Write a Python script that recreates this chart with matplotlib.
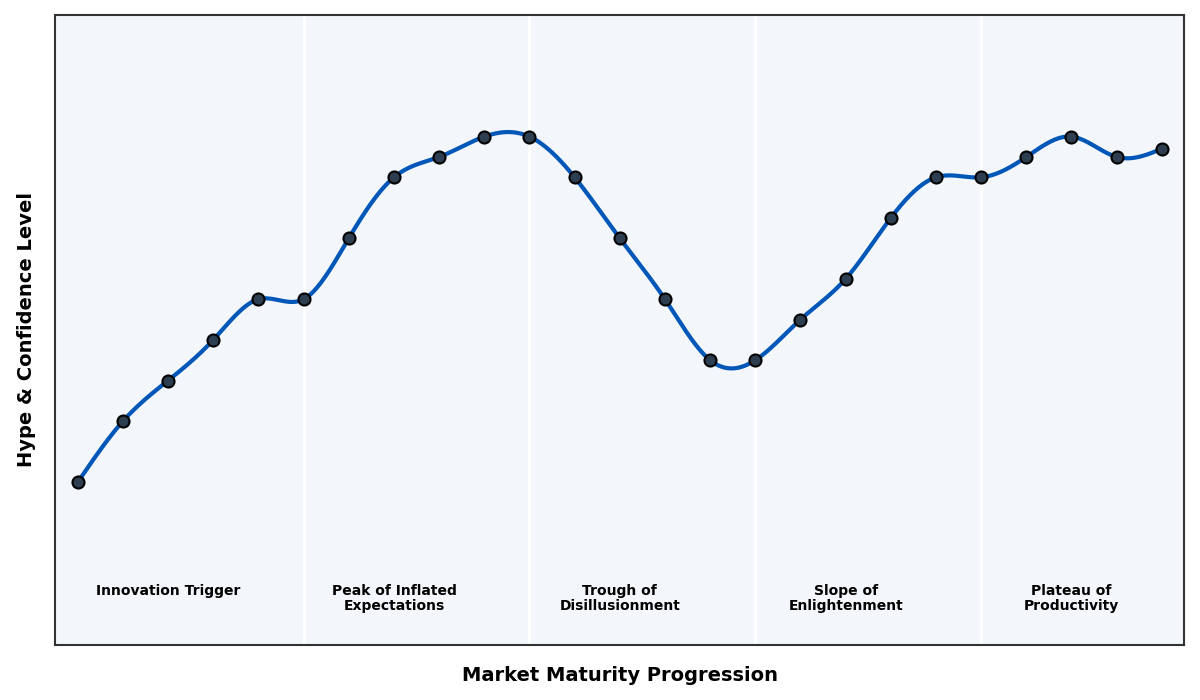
import numpy as np
import matplotlib.pyplot as plt

# hype curve values, one per step
steps = list(range(25))
hype = [10, 25, 35, 45, 55, 55, 70, 85, 90, 95, 95, 85, 70, 55, 40,
        40, 50, 60, 75, 85, 85, 90, 95, 90, 92]
phase_names = ['Innovation Trigger', 'Peak of Inflated\nExpectations',
               'Trough of\nDisillusionment', 'Slope of\nEnlightenment',
               'Plateau of\nProductivity']
phase_bounds = [5, 10, 15, 20]
phase_centers = [2, 7, 12, 17, 22]


def spline(x, y, xs):
    # natural cubic spline, numpy only
    x = np.asarray(x, float)
    y = np.asarray(y, float)
    n = len(x)
    h = np.diff(x)
    A = np.zeros((n, n))
    b = np.zeros(n)
    A[0, 0] = 1
    A[-1, -1] = 1
    for i in range(1, n - 1):
        A[i, i - 1] = h[i - 1]
        A[i, i] = 2 * (h[i - 1] + h[i])
        A[i, i + 1] = h[i]
        b[i] = 3 * ((y[i + 1] - y[i]) / h[i] - (y[i] - y[i - 1]) / h[i - 1])
    c = np.linalg.solve(A, b)
    idx = np.clip(np.searchsorted(x, xs) - 1, 0, n - 2)
    dx = xs - x[idx]
    bb = (y[idx + 1] - y[idx]) / h[idx] - h[idx] * (2 * c[idx] + c[idx + 1]) / 3
    d = (c[idx + 1] - c[idx]) / (3 * h[idx])
    return y[idx] + bb * dx + c[idx] * dx ** 2 + d * dx ** 3


fig, ax = plt.subplots(figsize=(12, 7), dpi=100)
fig.subplots_adjust(left=0.046, right=0.987, top=0.979, bottom=0.079)
ax.set_facecolor('#f3f7fb')

xs = np.linspace(steps[0], steps[-1], 500)
ax.plot(xs, spline(steps, hype, xs), color='#0057b7', lw=3, zorder=2)
ax.scatter(steps, hype, s=75, color='#2c3e50', edgecolor='black', linewidth=1.5, zorder=3)

for xb in phase_bounds:
    ax.axvline(xb, color='white', lw=2, zorder=1)

for xc, name in zip(phase_centers, phase_names):
    ax.text(xc, -15, name, ha='center', va='top', fontsize=10,
            fontweight='bold', linespacing=1.1)

ax.set_xlim(-0.5, 24.5)
ax.set_ylim(-30, 125)
ax.set_xticks([])
ax.set_yticks([])
for s in ax.spines.values():
    s.set_color('#333333')
    s.set_linewidth(1.5)

ax.set_xlabel('Market Maturity Progression', fontsize=14, fontweight='bold', labelpad=15)
ax.set_ylabel('Hype & Confidence Level', fontsize=14, fontweight='bold', labelpad=14)

fig.savefig('out.png')
